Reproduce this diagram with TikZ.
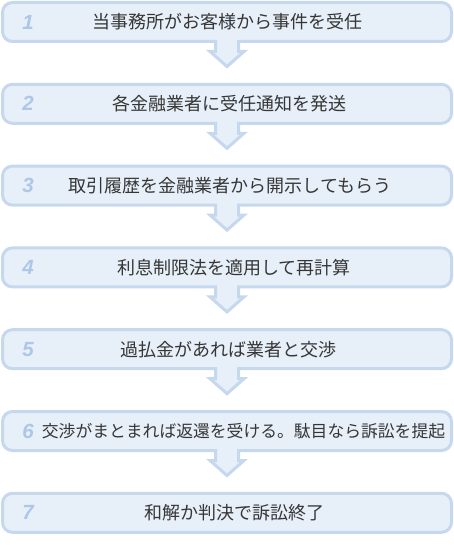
\documentclass[tikz,border=0pt]{standalone}
\usepackage{fontspec}
\newfontfamily\jpfont{Noto Sans CJK JP}
\newfontfamily\numfont{Liberation Sans}
\definecolor{boxfill}{HTML}{E7EFF9}
\definecolor{boxline}{HTML}{C6D8EE}
\definecolor{numcol}{HTML}{ADC7E7}
\definecolor{txtcol}{HTML}{363636}
\tikzset{
  stepshape/.style={fill=boxfill, draw=boxline, line width=3pt, line join=miter},
  steptext/.style={text=txtcol, inner sep=0pt, font=\jpfont\fontsize{18pt}{18pt}\selectfont},
  stepnum/.style={text=numcol, inner sep=0pt, font=\numfont\bfseries\itshape\fontsize{20.5pt}{20.5pt}\selectfont}
}
\begin{document}
\begin{tikzpicture}[x=1pt,y=-1pt]
\useasboundingbox (0,0) rectangle (454,545);
\def\L{2.5}
\def\R{451.5}
% boxes 1-6 with arrow at bottom
\foreach \i in {1,...,6}{
  \pgfmathsetmacro\T{2.5+81.8*(\i-1)}
  \pgfmathsetmacro\B{\T+39}
  \draw[stepshape]
    (238.5,\B) -- ({\R-10},\B) arc[start angle=270,end angle=360,radius=10pt]
    -- (\R,{\T+10}) arc[start angle=0,end angle=90,radius=10pt]
    -- ({\L+10},\T) arc[start angle=90,end angle=180,radius=10pt]
    -- (\L,{\B-10}) arc[start angle=180,end angle=270,radius=10pt]
    -- (215.5,\B) -- (215.5,{\B+10}) -- (210,{\B+10}) -- (227,{\B+25})
    -- (244,{\B+10}) -- (238.5,{\B+10}) -- cycle;
}
% box 7
\pgfmathsetmacro\Tseven{2.5+81.8*6}
\draw[stepshape, rounded corners=10pt] (\L,\Tseven) rectangle (\R,{\Tseven+39});
% numbers and texts
\foreach \i/\cx/\txt in {
  1/227.5/当事務所がお客様から事件を受任,
  2/229/各金融業者に受任通知を発送,
  3/230/取引履歴を金融業者から開示してもらう,
  4/234/利息制限法を適用して再計算,
  5/228/過払金があれば業者と交渉,
  7/234/和解か判決で訴訟終了}{
  \pgfmathsetmacro\C{2.5+81.8*(\i-1)+19.5}
  \node[stepnum] (n\i) at (28,\C) {\i};
  \node[steptext] (s\i) at (\cx,\C) {\txt};
}
\pgfmathsetmacro\Csix{2.5+81.8*5+19.5}
\node[stepnum] (n6) at (28,\Csix) {6};
\node[steptext, font=\jpfont\fontsize{16.8pt}{16.8pt}\selectfont] (s6) at (243.5,\Csix) {交渉がまとまれば返還を受ける。駄目なら訴訟を提起};
\end{tikzpicture}
\end{document}
